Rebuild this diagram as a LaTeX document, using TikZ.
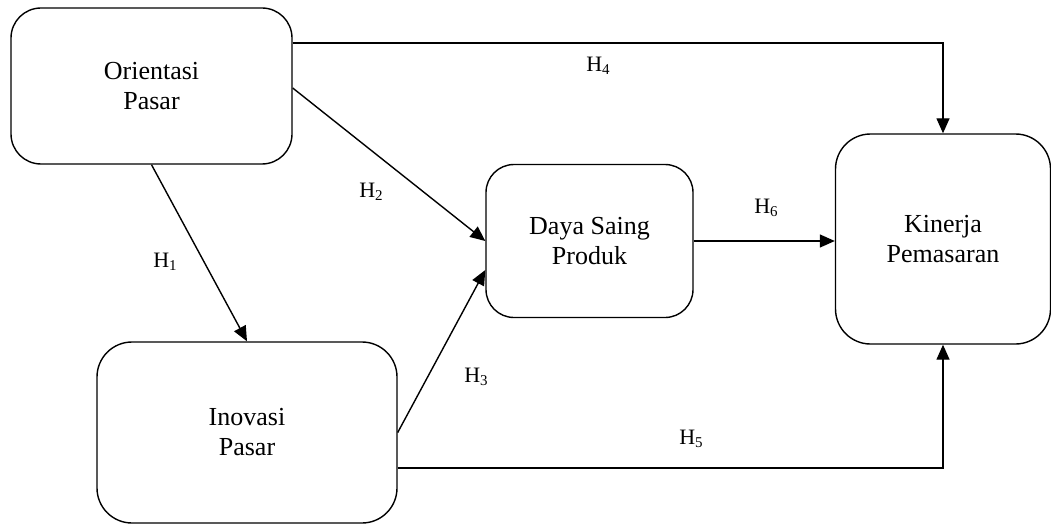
\documentclass[tikz,border=0pt]{standalone}
\usepackage{fontspec}
\setmainfont{Liberation Serif}
\usetikzlibrary{arrows.meta}
\newcommand{\hsub}[1]{H\raisebox{-2.5pt}{\fontsize{15}{18}\selectfont #1}}
\tikzset{
  box/.style={draw, line width=1.4pt, rectangle, align=center, font=\fontsize{26}{30}\selectfont},
  conn/.style={line width=1.4pt, -{Triangle[length=15pt,width=13pt]}},
  lbl/.style={font=\fontsize{22}{26}\selectfont, inner sep=0pt}
}
\begin{document}
\begin{tikzpicture}[x=1pt,y=-1pt]
\useasboundingbox (0,0) rectangle (1051,524);
\node[box, rounded corners=30pt, minimum width=281pt, minimum height=156pt] (O) at (151.5,86) {Orientasi\\Pasar};
\node[box, rounded corners=28pt, minimum width=207pt, minimum height=153pt] (D) at (589.5,241) {Daya Saing\\Produk};
\node[box, rounded corners=35pt, minimum width=300pt, minimum height=181pt] (I) at (247,432.5) {Inovasi\\Pasar};
\node[box, rounded corners=35pt, minimum width=215pt, minimum height=210pt] (K) at (943,239) {Kinerja\\Pemasaran};

\draw[conn] ([yshift=43pt]O.east) -| (K.north);
\draw[conn] ([yshift=-2pt]O.east) -- (D.west);
\draw[conn] (O.south) -- (I.north);
\draw[conn] (I.east) -- ([yshift=-29pt]D.west);
\draw[conn] ([yshift=-35.5pt]I.east) -| (K.south);
\draw[conn] (D.east) -- (D.east -| K.west);

\node[lbl] (h4) at (598,66) {\hsub{4}};
\node[lbl] (h2) at (371,192) {\hsub{2}};
\node[lbl] (h1) at (165,262) {\hsub{1}};
\node[lbl] (h3) at (476,377) {\hsub{3}};
\node[lbl] (h5) at (691,439) {\hsub{5}};
\node[lbl] (h6) at (766,208) {\hsub{6}};
\end{tikzpicture}
\end{document}
